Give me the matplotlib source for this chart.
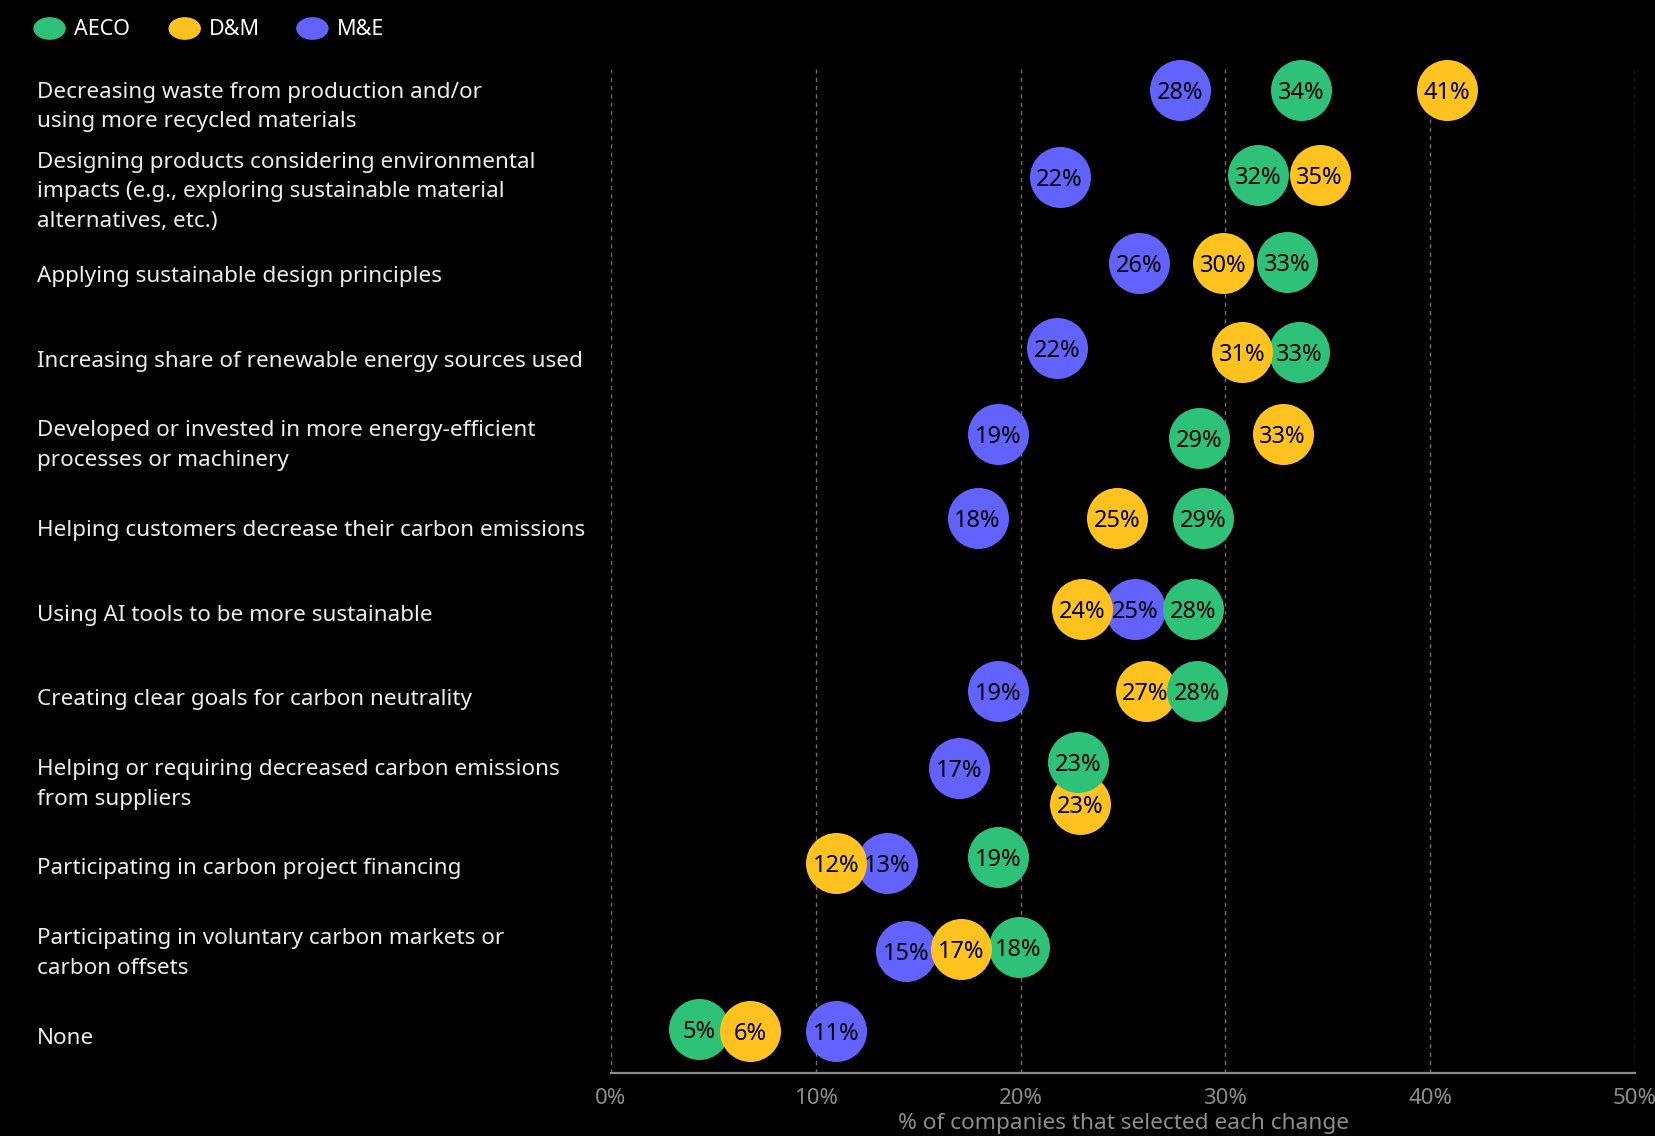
import matplotlib.pyplot as plt

plt.rcParams['font.family'] = ['Noto Sans', 'DejaVu Sans']

# categories, top to bottom
changes = [
    'Decreasing waste from production and/or\nusing more recycled materials',
    'Designing products considering environmental\nimpacts (e.g., exploring sustainable material\nalternatives, etc.)',
    'Applying sustainable design principles',
    'Increasing share of renewable energy sources used',
    'Developed or invested in more energy-efficient\nprocesses or machinery',
    'Helping customers decrease their carbon emissions',
    'Using AI tools to be more sustainable',
    'Creating clear goals for carbon neutrality',
    'Helping or requiring decreased carbon emissions\nfrom suppliers',
    'Participating in carbon project financing',
    'Participating in voluntary carbon markets or\ncarbon offsets',
    'None',
]

# labels printed in the bubbles (%)
aeco_pct = [34, 32, 33, 33, 29, 29, 28, 28, 23, 19, 18, 5]
dm_pct = [41, 35, 30, 31, 33, 25, 24, 27, 23, 12, 17, 6]
me_pct = [28, 22, 26, 22, 19, 18, 25, 19, 17, 13, 15, 11]

# where the bubbles sit on the % axis (dodged so they don't overlap)
aeco_x = [33.7, 31.6, 33.0, 33.6, 28.7, 28.9, 28.4, 28.6, 22.8, 18.9, 19.9, 4.3]
dm_x = [40.8, 34.6, 29.9, 30.8, 32.8, 24.7, 23.0, 26.1, 22.9, 11.0, 17.1, 6.8]
me_x = [27.8, 21.9, 25.8, 21.8, 18.9, 17.9, 25.6, 18.9, 17.0, 13.5, 14.4, 11.0]

# small vertical dodge inside a row (row units)
aeco_dy = [0, -0.01, 0.01, 0.06, 0.07, 0, 0.07, 0.03, -0.14, -0.04, 0.02, -0.02]
dm_dy = [0, -0.01, 0.02, 0.06, 0.02, 0, 0.07, 0.03, 0.35, 0.04, 0.04, 0]
me_dy = [0, 0.02, 0.02, 0.02, 0.02, 0, 0.07, 0.03, -0.07, 0.03, 0.06, 0]

GREEN = '#2dc277'
YELLOW = '#ffc21f'
BLUE = '#6262ff'

series = [
    ('M&E', me_x, me_pct, me_dy, BLUE),
    ('AECO', aeco_x, aeco_pct, aeco_dy, GREEN),
    ('D&M', dm_x, dm_pct, dm_dy, YELLOW),
]

fig = plt.figure(figsize=(16.55, 11.36), dpi=100, facecolor='black')
ax = fig.add_axes([611 / 1655, 1 - 1073 / 1136, 1024 / 1655, 1004 / 1136])
ax.set_facecolor('black')

rows = list(range(len(changes)))
for k, (name, xs, pcts, dys, col) in enumerate(series):
    ys = [r + d for r, d in zip(rows, dys)]
    for j, (x, y, p) in enumerate(zip(xs, ys, pcts)):
        # green sits over yellow where they touch, except in the lowest rows
        z = 2 + k
        if name == 'AECO' and j in (7, 8):
            z = 5
        ax.scatter([x], [y], s=1930, color=col, linewidths=0, zorder=z, clip_on=False)
        ax.text(x, y + 0.035, f'{p}%', ha='center', va='center', fontsize=17,
                fontweight='medium', color='black', zorder=z + 0.5)

ax.set_xlim(0, 50)
ax.set_ylim(11.49, -0.247)
ax.set_xticks(range(0, 51, 10))
ax.set_xticklabels([f'{t}%' for t in range(0, 51, 10)])
ax.set_yticks([])
ax.tick_params(axis='x', length=0, pad=11, labelsize=16, labelcolor='#8c8c8c')
for t in range(0, 51, 10):
    ax.axvline(t, color='#6e6e6e', lw=1, ls=(0, (3, 3)), zorder=0)
for s in ['top', 'right', 'left']:
    ax.spines[s].set_visible(False)
ax.spines['bottom'].set_color('#8a8a8a')
ax.spines['bottom'].set_linewidth(1.6)
ax.set_xlabel('% of companies that selected each change', fontsize=16.3,
              color='#8c8c8c', labelpad=3)

# row labels, left of the plot
for i, lab in enumerate(changes):
    ty = i + (16 - 0.83 * i) / 81.1
    ax.text(-0.5606, ty, lab, transform=ax.get_yaxis_transform(),
            ha='left', va='center', fontsize=16.2, color='#ececec',
            linespacing=1.53)

# legend across the top
for name, x0, col in [('AECO', 49.6, GREEN), ('D&M', 184.7, YELLOW), ('M&E', 312.4, BLUE)]:
    fig.patches.append(plt.Circle((x0 / 1655, 1 - 28.5 / 1136), 15.5 / 1655,
                                  color=col, transform=fig.transFigure))
    fig.text((x0 + 24) / 1655, 1 - 29.5 / 1136, name, ha='left', va='center',
             fontsize=15.5, fontweight='bold', color='white')

fig.savefig('out.png', dpi=100, facecolor='black')
